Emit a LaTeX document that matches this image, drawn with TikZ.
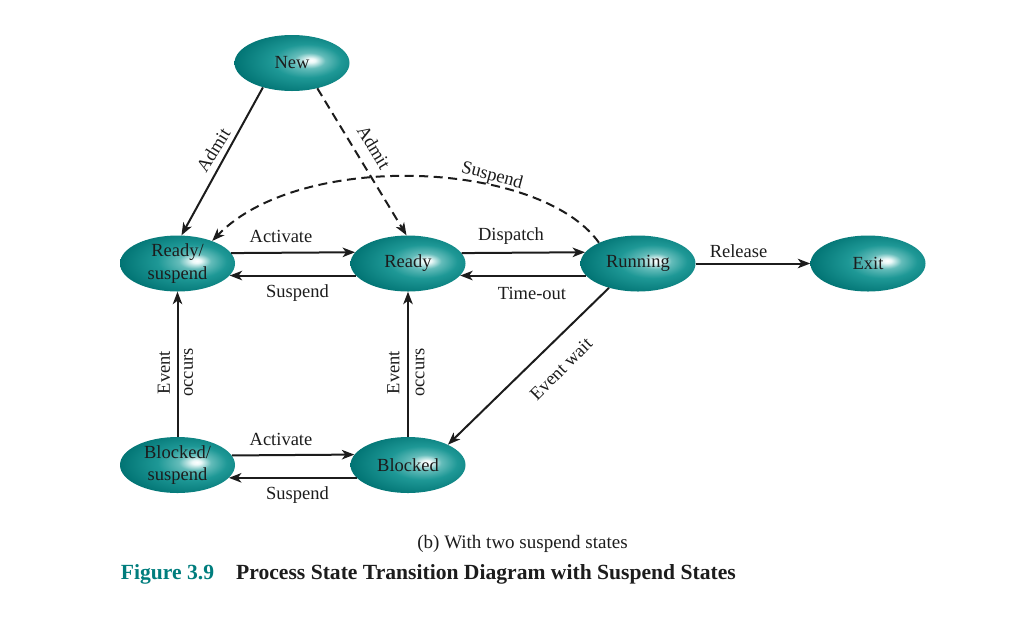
\documentclass[tikz,border=0pt]{standalone}
\usepackage{fontspec}
\setmainfont{Liberation Serif}
\usetikzlibrary{arrows.meta,shapes.geometric}
\definecolor{tealdark}{RGB}{0,114,114}
\definecolor{tealmid}{RGB}{30,152,150}
\definecolor{teallight}{RGB}{185,232,229}
\definecolor{figteal}{RGB}{0,125,125}
\definecolor{ink}{RGB}{28,28,28}
\pgfdeclareradialshading{stateshade}{\pgfpoint{8.5bp}{2.5bp}}{color(0bp)=(white); color(2bp)=(white!70!teallight); color(7bp)=(teallight!45!tealmid); color(15bp)=(tealmid); color(30bp)=(tealdark); color(60bp)=(tealdark)}
\newcommand\stfont{\fontsize{18.5}{22.3}\selectfont}
\newcommand\lblfont{\fontsize{18.5}{22}\selectfont}
\newcommand\capfont{\fontsize{19}{23}\selectfont}
\newcommand\ttlfont{\fontsize{21.6}{26}\selectfont\bfseries}
\begin{document}
\begin{tikzpicture}[x=1pt,y=-1pt,
  state/.style={ellipse, minimum width=115pt, minimum height=56pt, inner sep=0pt,
    shade, shading=stateshade, align=center, font=\stfont, text=ink},
  tr/.style={line width=2pt, draw=ink, -{Stealth[length=12.5pt,width=9.5pt,inset=3.5pt]}},
  dsh/.style={dash pattern=on 9pt off 5.5pt},
  lbl/.style={font=\lblfont, text=ink, inner sep=0pt}]
\useasboundingbox (0,0) rectangle (1024,627);

% states
\node[state] (new)  at (292,63)      {New};
\node[state] (rs)   at (177.5,263.5) {Ready/\\suspend};
\node[state] (r)    at (408,263.5)   {Ready};
\node[state] (run)  at (638,263.5)   {Running};
\node[state] (exit) at (868,263.5)   {Exit};
\node[state] (bs)   at (177.5,465)   {Blocked/\\suspend};
\node[state] (b)    at (408,465)     {Blocked};

% transitions
\draw[tr] (new.220) -- (rs.82);
\draw[tr,dsh] (new.-45) -- (r.93);
\draw[tr,dsh] (run.152) .. controls (540,160) and (300,150) .. (rs.33);
\draw[tr] (rs.11.7) -- (r.168.3);
\draw[tr] (r.193) -- (rs.-13);
\draw[tr] (r.11.7) -- (run.168.3);
\draw[tr] (run.193) -- (r.-13);
\draw[tr] (run.east) -- (exit.west);
\draw[tr] (run.220) -- (b.27);
\draw[tr] (bs.north) -- (rs.south);
\draw[tr] (b.north) -- (r.south);
\draw[tr] (bs.10.5) -- (b.169.5);
\draw[tr] (b.194.5) -- (bs.-14.5);

% labels
\node[lbl, rotate=58]  (l1)  at (213.3,150) {Admit};
\node[lbl, rotate=-59] (l2)  at (374,147)   {Admit};
\node[lbl, rotate=-15] (l3)  at (492,176)   {Suspend};
\node[lbl] (l4)  at (281,236.5)  {Activate};
\node[lbl] (l5)  at (297.5,293.5) {Suspend};
\node[lbl] (l6)  at (511,236)    {Dispatch};
\node[lbl] (l7)  at (532,293.5)  {Time-out};
\node[lbl] (l8)  at (738.5,251)  {Release};
\node[lbl, rotate=45]  (l9)  at (561,369)   {Event wait};
\node[lbl, rotate=90]  (l10) at (164,372.5) {Event};
\node[lbl, rotate=90]  (l11) at (188.5,372.5) {occurs};
\node[lbl, rotate=90]  (l12) at (393.3,372.5) {Event};
\node[lbl, rotate=90]  (l13) at (420,372.5) {occurs};
\node[lbl] (l14) at (281,439.5)  {Activate};
\node[lbl] (l15) at (297.5,495.5) {Suspend};

% caption
\node[font=\capfont, text=ink, inner sep=0pt, anchor=base] (cap) at (522.5,548) {(b) With two suspend states};
\node[font=\ttlfont, text=figteal, inner sep=0pt, anchor=base west] (fig) at (120.7,579) {Figure 3.9};
\node[font=\ttlfont, text=ink, inner sep=0pt, anchor=base west] (ttl) at (236,579) {Process State Transition Diagram with Suspend States};
\end{tikzpicture}
\end{document}
